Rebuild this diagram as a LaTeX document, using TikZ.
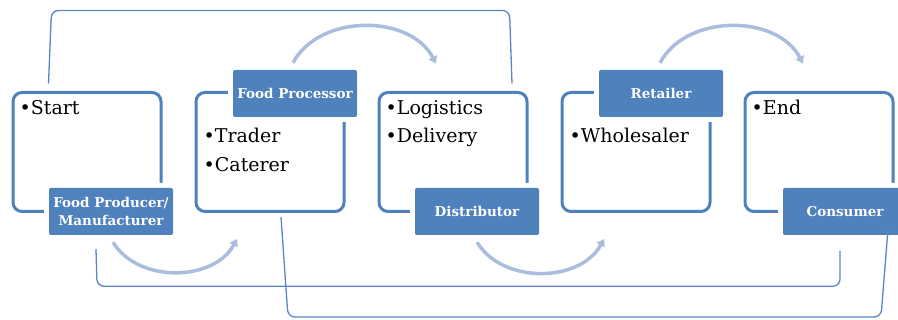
\documentclass[tikz,border=0pt]{standalone}
\usepackage{fontspec}
\setmainfont{DejaVu Serif}
\usetikzlibrary{arrows.meta,positioning,calc}
\definecolor{scBlue}{HTML}{4F81BD}
\definecolor{scArrow}{HTML}{A9BEDE}
\definecolor{scLine}{HTML}{5787C6}
\tikzset{
  stagebox/.style={rectangle,rounded corners=9pt,
    minimum width=148pt,minimum height=119pt,
    draw=scBlue,line width=3pt,fill=white},
  lblbox/.style={rectangle,rounded corners=2pt,
    minimum width=124pt,minimum height=47pt,inner sep=2pt,
    align=center,fill=scBlue,text=white,
    font=\fontsize{13.5}{18}\selectfont\bfseries,
    preaction={draw=white,line width=10pt}},
  itemtxt/.style={anchor=north west,align=left,inner sep=0pt,
    font=\fontsize{19}{28.5}\selectfont,text=black},
  flowarr/.style={-{Triangle[length=7pt,width=9pt]},line width=3.5pt,color=scArrow},
  linkln/.style={line width=1.3pt,color=scLine,rounded corners=7pt},
}
\begin{document}
\begin{tikzpicture}[x=1pt,y=1pt,node distance=32pt]
  \useasboundingbox (0,0) rectangle (898,320);
  \clip (0,0) rectangle (898,320);

  % stages
  \node[stagebox] (start) at (87,168) {};
  \node[stagebox,right=of start] (proc) {};
  \node[stagebox,right=of proc] (dist) {};
  \node[stagebox,right=of dist] (ret) {};
  \node[stagebox,right=of ret] (cons) {};

  % labels
  \node[lblbox] (prodlbl) at ([xshift=24pt,yshift=1.5pt]start.south) {Food Producer/\\Manufacturer};
  \node[lblbox] (proclbl) at ([xshift=25pt,yshift=-2.5pt]proc.north) {Food Processor};
  \node[lblbox] (distlbl) at ([xshift=24pt,yshift=1.5pt]dist.south) {Distributor};
  \node[lblbox] (retlbl) at ([xshift=25pt,yshift=-2.5pt]ret.north) {Retailer};
  \node[lblbox] (conslbl) at ([xshift=26pt,yshift=1.5pt]cons.south) {Consumer};

  % items
  \node[itemtxt] (starttxt) at ([xshift=8pt,yshift=-9pt]start.north west) {•Start};
  \node[itemtxt] (proctxt) at ([xshift=9pt,yshift=-37pt]proc.north west) {•Trader\\•Caterer};
  \node[itemtxt] (disttxt) at ([xshift=8pt,yshift=-9pt]dist.north west) {•Logistics\\•Delivery};
  \node[itemtxt] (rettxt) at ([xshift=9pt,yshift=-37pt]ret.north west) {•Wholesaler};
  \node[itemtxt] (constxt) at ([xshift=8pt,yshift=-9pt]cons.north west) {•End};

  % flow arrows
  \draw[flowarr] ([xshift=2pt,yshift=-7pt]prodlbl.south) to[bend right=60]
    ([xshift=42.5pt,yshift=-26pt]proc.south west);
  \draw[flowarr] ([xshift=-2pt,yshift=7pt]proclbl.north) to[bend left=62]
    ([xshift=58.5pt,yshift=27.5pt]dist.north west);
  \draw[flowarr] ([yshift=-7pt]distlbl.south) to[bend right=60]
    ([xshift=43.5pt,yshift=-26pt]ret.south west);
  \draw[flowarr] ([xshift=-1pt,yshift=7pt]retlbl.north) to[bend left=62]
    ([xshift=59.5pt,yshift=27.5pt]cons.north west);

  % links
  \draw[linkln] ([xshift=37pt,yshift=7.5pt]start.north west) -- ++(3,73) -- ++(458,0)
    -- ([xshift=-16.5pt,yshift=7.5pt]dist.north east);
  \draw[linkln] ([xshift=-15pt,yshift=-14pt]prodlbl.south) -- ++(1,-37)
    -| ([xshift=-5pt,yshift=-16pt]conslbl.south);
  \draw[linkln] ([xshift=11pt,yshift=-4pt]proc.south) -- ++(7,-100) -- ++(593,0)
    -- ([xshift=43pt,yshift=6pt]conslbl.south);
\end{tikzpicture}
\end{document}
